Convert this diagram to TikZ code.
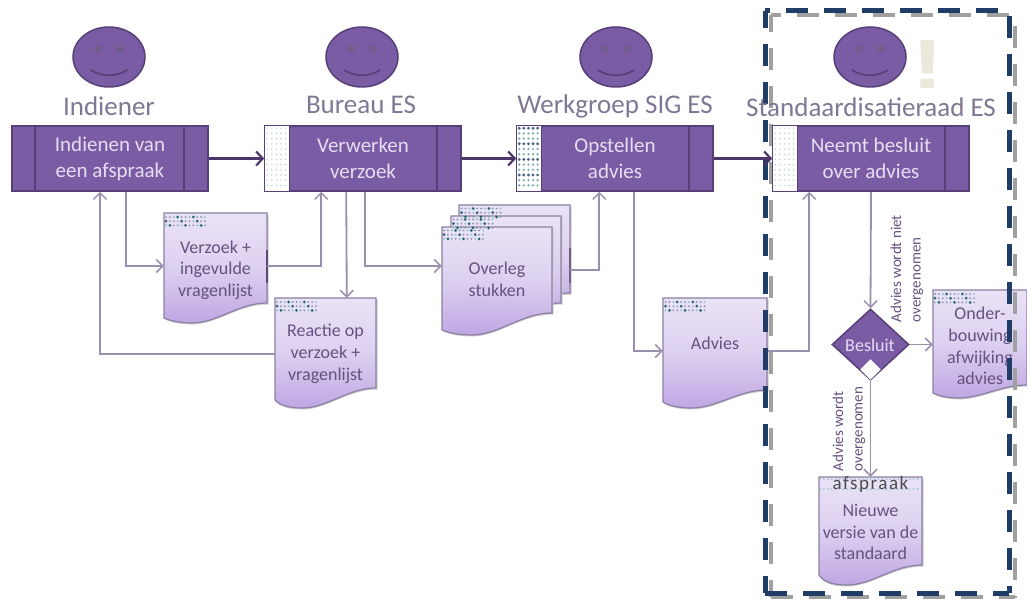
\documentclass[tikz,border=0pt]{standalone}
\usepackage{fontspec}
\setmainfont{Carlito}
\newfontfamily\exclfont{Liberation Sans}
\usetikzlibrary{arrows.meta,calc,shapes.geometric}
\pgfdeclarelayer{top}
\pgfsetlayers{main,top}
\definecolor{procfill}{HTML}{7A5CA5}
\definecolor{procline}{HTML}{574078}
\definecolor{headtxt}{HTML}{7F7794}
\definecolor{boxtxt}{HTML}{E6DDF3}
\definecolor{doctxt}{HTML}{65527F}
\definecolor{flowc}{HTML}{9A90AE}
\definecolor{mainc}{HTML}{4C3669}
\definecolor{navy}{HTML}{1F3D66}
\definecolor{greyd}{HTML}{A0A0A0}
\definecolor{docline}{HTML}{8C80A4}
\definecolor{teald}{HTML}{2F7F8F}
\definecolor{exclc}{HTML}{ECE9DC}
\definecolor{doctop}{HTML}{EAE3F6}
\definecolor{docmid}{HTML}{DCD0F0}
\definecolor{docbot}{HTML}{BFA7E3}
\tikzset{
  x=1pt,y=-1pt,
  head/.style={font=\fontsize{27}{30}\selectfont,text=headtxt,inner sep=0pt},
  procbox/.style={draw=procline,line width=1.6pt,fill=procfill,minimum width=196pt,minimum height=65pt,inner sep=0pt,
     align=center,text=boxtxt,font=\fontsize{21}{26}\selectfont},
  face/.style={ellipse,draw=procline,line width=1.5pt,fill=procfill,minimum width=72pt,minimum height=60pt,inner sep=0pt},
  doctext/.style={align=center,text=doctxt,font=\fontsize{18}{21.7}\selectfont,inner sep=0pt},
  docanchor/.style={minimum width=0pt,inner sep=0pt,rectangle},
  flow/.style={draw=flowc,line width=1.8pt,-{Straight Barb[length=6.5pt,width=13pt,line width=1.5pt]}},
  mainflow/.style={draw=mainc,line width=2.8pt,-{Straight Barb[length=6.5pt,width=14pt,line width=2.2pt]}},
  rot/.style={rotate=90,align=left,text=doctxt,font=\fontsize{15}{19.5}\selectfont,inner sep=0pt},
  navydash/.style={draw=navy,line width=5pt,dash pattern=on 22pt off 16pt},
  greydash/.style={draw=greyd,line width=4.5pt,dash pattern=on 22pt off 16pt},
}
% pattern of small dots
\newcommand{\patdots}[3]{% x, y, columns
  \foreach \i in {1,...,#3}{\foreach \j in {0,1,2}{
    \pgfmathtruncatemacro{\m}{mod(\i*3+\j*5,4)}
    \ifnum\m=0 \fill[teald!80!black] ({#1+(\i-1)*3.9+1.5},{#2+\j*4.2+1.5}) circle (1.5pt);
    \else\ifnum\m=1 \fill[teald!45] ({#1+(\i-1)*3.9+1.5},{#2+\j*4.2+1.5}) circle (1.2pt);
    \else \fill[navy!55] ({#1+(\i-1)*3.9+1.5},{#2+\j*4.2+1.5}) circle (1pt);\fi\fi
  }}}
% document shape: name, x1, y1, x2, yleft, ylow, yright, text y, text
\newcommand{\docshape}[9]{%
  \fill[black!20] ({#2+1.5},{#3+1.5}) -- ({#4+1.5},{#3+1.5}) -- ({#4+1.5},{#7+1.5})
     .. controls ({#4-0.28*(#4-#2)},{#7+1.5}) and ({#2+0.52*(#4-#2)},{#6+1.5}) .. ({#2+0.27*(#4-#2)},{#6+1.5})
     .. controls ({#2+0.14*(#4-#2)},{#6+1.5}) and ({#2+0.04*(#4-#2)},{#6-1.5}) .. ({#2+1.5},{#5+1.5}) -- cycle;
  \path[draw=docline,line width=1.2pt,top color=doctop,bottom color=docbot,middle color=docmid,shading angle=0]
     (#2,#3) -- (#4,#3) -- (#4,#7)
     .. controls ({#4-0.28*(#4-#2)},#7) and ({#2+0.52*(#4-#2)},#6) .. ({#2+0.27*(#4-#2)},#6)
     .. controls ({#2+0.14*(#4-#2)},#6) and ({#2+0.04*(#4-#2)},{#6-3}) .. (#2,#5) -- cycle;
  \node[docanchor,minimum width={(#4-#2)*1pt},minimum height={(#6-#3)*1pt}] (#1) at ({(#2+#4)/2},{(#3+#6)/2}) {};
  \node[doctext] (#1-text) at ({(#2+#4)/2},#8) {#9};
}
\begin{document}
\begin{tikzpicture}
\useasboundingbox (0,0) rectangle (1027,601);

\begin{pgfonlayer}{top}
\node[procbox] (p1) at (110,158.5) {Indienen van\\een afspraak};
\node[procbox] (p2) at (363,158.5) {Verwerken\\verzoek};
\node[procbox] (p3) at (615,158.5) {Opstellen\\advies};
\node[procbox] (p4) at (871,158.5) {Neemt besluit\\over advies};
\draw[procline,line width=1.6pt] ([xshift=24pt]p1.north west) -- ([xshift=24pt]p1.south west);
\draw[procline,line width=1.6pt] ([xshift=-25pt]p1.north east) -- ([xshift=-25pt]p1.south east);
\foreach \n in {p2,p3,p4}{
  \fill[white,draw=procline,line width=1.2pt] (\n.north west) rectangle ([xshift=25pt]\n.south west);
  \draw[procline,line width=1.6pt] ([xshift=-25pt]\n.north east) -- ([xshift=-25pt]\n.south east);
}
\foreach \n in {p2,p4}{
  \foreach \i in {0,...,4}{\foreach \j in {0,...,11}{
    \fill[teald!30] ($(\n.north west)+(3+\i*4.6,{3+\j*5.2})$) circle (0.9pt);
  }}
}
\foreach \i in {0,...,4}{\foreach \j in {0,...,11}{
    \pgfmathtruncatemacro{\m}{mod(\i*3+\j*5,3)}
    \ifnum\m=0 \fill[navy!80] ($(p3.north west)+(3+\i*4.6,{3+\j*5.2})$) circle (1.6pt);
    \else \fill[teald!70] ($(p3.north west)+(3+\i*4.6,{3+\j*5.2})$) circle (1.2pt);\fi
}}
\draw[mainflow] (p3.east) -- (p4.west);

% people
\foreach \n/\x in {f1/109,f2/362,f3/616,f4/870}{
  \node[face] (\n) at (\x,57) {};
  \fill[procline!85] ($(\n.center)+(-11,-8)$) circle (3.8pt);
  \fill[procline!85] ($(\n.center)+(11,-8)$) circle (3.8pt);
  \draw[procline,line width=1.7pt,line cap=round] ($(\n.center)+(-18,13)$) .. controls ($(\n.center)+(-8,20)$) and ($(\n.center)+(8,20)$) .. ($(\n.center)+(18,13)$);
}
\node[text=exclc,font=\fontsize{70}{70}\selectfont\exclfont\bfseries,inner sep=0pt,xscale=1.4] (excl) at (928,64) {!};
\node[head] (h1) at (109,106) {Indiener};
\node[head] (h2) at (361,105) {Bureau ES};
\node[head] (h3) at (615,106) {Werkgroep SIG ES};
\node[head] (h4) at (871,107) {Standaardisatieraad ES};
\end{pgfonlayer}

% documents
\docshape{d1}{164}{213}{267}{318}{323}{303}{270}{Verzoek +\\ingevulde\\vragenlijst}
\docshape{d2}{275}{298}{376}{400}{408}{388}{354}{Reactie op\\verzoek +\\vragenlijst}
\docshape{d3c}{459}{205}{570}{300}{310}{293}{250}{}
\docshape{d3b}{451}{216}{561}{315}{322}{303}{260}{}
\docshape{d3}{442}{227}{552}{330}{335}{313}{279}{Overleg\\stukken}
\docshape{d4}{663}{298}{767}{402}{408}{390}{343}{Advies}
\docshape{d5}{933}{290}{1027}{393}{398}{385}{346}{Onder-\\bouwing\\afwijking\\advies}
\docshape{d6}{819}{477}{922}{575}{585}{565}{532}{Nieuwe\\versie van de\\standaard}

\patdots{164.5}{215.5}{11}
\patdots{275.5}{300.5}{11}
\patdots{460}{207}{11}
\patdots{452}{218}{11}
\patdots{442.5}{229}{11}
\patdots{664}{300.5}{11}
\patdots{933.5}{292.5}{11}
\foreach \k in {0,...,25}{\fill[teald!45] ({820+\k*3.9},479) circle (1pt);\fill[teald!45] ({820+\k*3.9},489) circle (1pt);}
\node[text=black!70,font=\fontsize{19}{19}\selectfont\addfontfeatures{LetterSpace=8},inner sep=0pt] (d6-tag) at (870.5,484.5) {afspraak};

\draw[mainc!90,line width=1.4pt] (267,250) -- (267,283);
\draw[mainc!80,line width=1.4pt] (570,248) -- (570,283);

% decision
\node[diamond,draw=procline,line width=1.5pt,fill=procfill,minimum width=77pt,minimum height=71pt,inner sep=0pt,aspect=1.08] (dec) at (870.5,344.5) {};
\node[diamond,fill=white,draw=white,minimum width=20pt,minimum height=20pt,inner sep=0pt] (decw) at (870.5,369.5) {};
\node[text=boxtxt,font=\fontsize{18}{20}\selectfont,inner sep=0pt] (dect) at (870,345) {Besluit};

% connectors
\coordinate (a1) at ([xshift=115pt]p1.south west);
\draw[flow] (a1) |- ([yshift=2pt]d1.west);
\coordinate (b1) at ([xshift=57pt]p2.south west);
\draw[flow] ([yshift=2pt]d1.east) -| (b1);
\coordinate (b2) at ([xshift=-10pt]p1.south);
\draw[flow] ([yshift=-1pt]d2.west) -| (b2);
\draw[flow] ([xshift=82pt]p2.south west) -- ([xshift=72pt]d2.north west);
\draw[flow] ([xshift=101pt]p2.south west) |- ([yshift=15pt]d3.west);
\coordinate (b3) at ([xshift=83pt]p3.south west);
\draw[flow] ([yshift=-12.5pt]d3c.east) -| (b3);
\draw[flow] ([xshift=118pt]p3.south west) |- ([yshift=2pt]d4.west);
\coordinate (b4) at ([xshift=37pt]p4.south west);
\draw[flow] ([yshift=2pt]d4.east) -| (b4);
\draw[flow] (p4.south) -- (dec.north);
\draw[flow] (dec.east) -- (dec.east -| d5.west);
\draw[flow] (dec.south) -- (dec.south |- d6.north);
\draw[mainflow] (p1) -- (p2);
\draw[mainflow] (p2) -- (p3);

% rotated labels
\node[rot] (l1) at (907,268.5) {Advies wordt niet\\overgenomen};
\node[rot] (l2) at (849,429) {Advies wordt\\overgenomen};

% dashed frame
\draw[greydash,dash phase=12pt] (771,15) -- (1015,15);
\draw[greydash,dash phase=27pt] (1015,15) -- (1015,598);
\draw[greydash] (771,597) -- (1015,597);
\draw[greydash,dash phase=5pt] (771,15) -- (771,597);
\draw[navydash,dash phase=17pt] (765,11) -- (1009,11);
\draw[navydash,dash phase=33pt] (1009,11) -- (1009,593);
\draw[navydash] (765,593) -- (1009,593);
\draw[navydash,dash phase=5pt] (765,11) -- (765,593);
\end{tikzpicture}
\end{document}
